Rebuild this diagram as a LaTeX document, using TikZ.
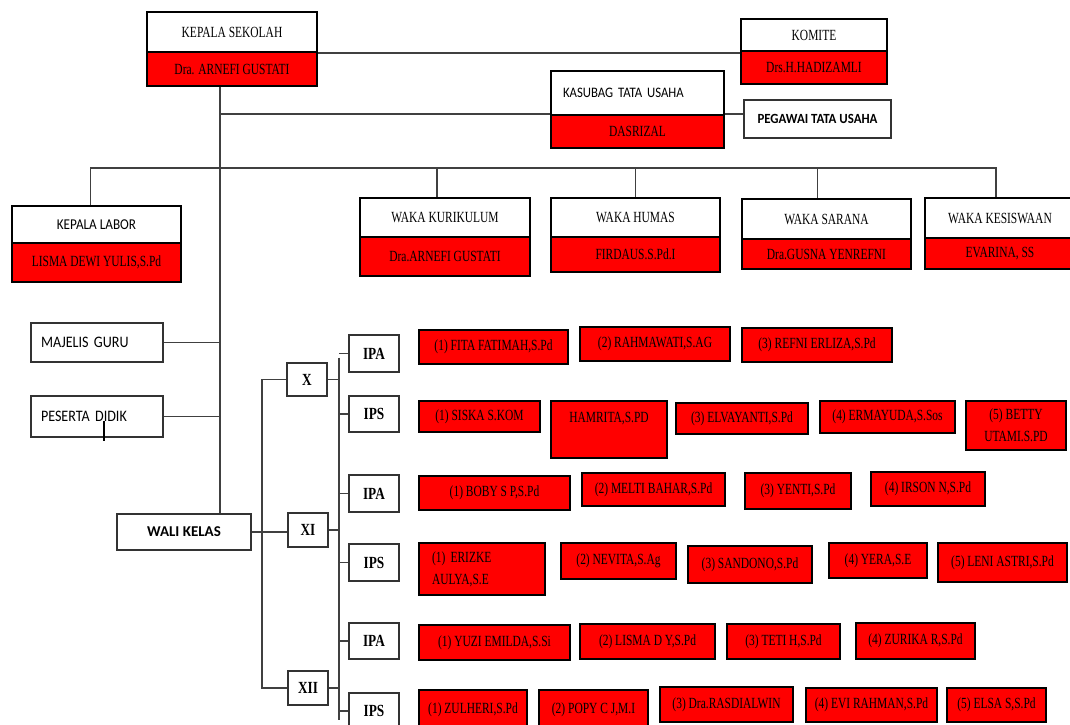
\documentclass[tikz,border=0pt]{standalone}
\usepackage{fontspec}
\newfontfamily\tnr[FakeStretch=0.74]{Liberation Serif}
\newfontfamily\tnrb[FakeStretch=0.78]{Liberation Serif Bold}
\newfontfamily\cbri[FakeStretch=0.88]{Carlito}
\newfontfamily\cbrib[FakeStretch=0.92]{Carlito Bold}
\newfontfamily\cbribn{Carlito Bold}
\definecolor{rd}{RGB}{255,0,0}
\tikzset{
  hw/.style={draw=black, line width=1.8pt, fill=white, inner sep=0pt, font=\tnr\fontsize{15.5}{17}\selectfont},
  hr/.style={hw, fill=rd},
  pb/.style={draw=black!80, line width=1.2pt, fill=white, inner sep=0pt, font=\cbri\fontsize{14.5}{16}\selectfont},
  kb/.style={pb, font=\tnrb\fontsize{17}{19}\selectfont},
  rb/.style={draw=black, line width=2.2pt, fill=rd, inner sep=0pt, font=\tnr\fontsize{15.5}{17}\selectfont},
  two/.style={font=\tnr\fontsize{15.5}{22}\selectfont},
  conn/.style={draw=black!75, line width=1.3pt},
}
% \bx[opts]{style}{name}{x1}{y1}{x2}{y2}{text}
\newcommand\bx[8][]{\node[#2, minimum width={(#6-#4)*1pt}, minimum height={(#7-#5)*1pt}, #1] (#3) at ({(#4+#6)/2},{(#5+#7)/2}) {#8};}
% \hp[topopts]{name}{x1}{y1}{ydiv}{x2}{y2}{top}{bottom}
\newcommand\hp[9][]{\bx[#1]{hw}{#2-w}{#3}{#4}{#6}{#5}{#8}\bx{hr}{#2-r}{#3}{#5}{#6}{#7}{#9}}
\begin{document}
\begin{tikzpicture}[x=1pt,y=-1pt]
\useasboundingbox (0,0) rectangle (1070,724);
\clip (0,0) rectangle (1070,724);
\fill[white] (0,0) rectangle (1070,724);
% header pairs
\hp{ks}{147}{12}{52}{317}{86}{KEPALA SEKOLAH}{Dra. ARNEFI GUSTATI}
\hp{kom}{741}{19}{51}{887}{84}{KOMITE}{Drs.H.HADIZAMLI}
\hp[font=\cbri\fontsize{14.5}{16}\selectfont, text width=149pt, align=left]{kas}{551}{71}{115}{724}{148}{KASUBAG TATA USAHA}{DASRIZAL}
\hp[font=\cbri\fontsize{15}{16}\selectfont]{lab}{12}{206}{243}{181}{282}{KEPALA LABOR}{LISMA DEWI YULIS,S.Pd}
\hp{kur}{360}{198}{237}{530}{276}{WAKA KURIKULUM}{Dra.ARNEFI GUSTATI}
\hp{hum}{551}{198}{237}{720}{272}{WAKA HUMAS}{FIRDAUS.S.Pd.I}
\hp{sar}{742}{199}{239}{911}{269}{WAKA SARANA}{Dra.GUSNA YENREFNI}
\hp{kes}{925}{198}{238}{1075}{269}{WAKA KESISWAAN}{EVARINA, SS}
% plain boxes
\bx[font=\cbrib\fontsize{14}{16}\selectfont]{pb}{peg}{744}{100}{891}{138}{PEGAWAI TATA USAHA}
\bx[text width=112pt, align=left, font=\cbri\fontsize{16}{18}\selectfont]{pb}{mg}{31}{323}{163}{362}{MAJELIS GURU}
\bx[text width=112pt, align=left, font=\cbri\fontsize{16}{18}\selectfont]{pb}{pd}{31}{396}{163}{437}{PESERTA DIDIK}
\bx[font=\cbribn\fontsize{15}{16}\selectfont]{pb}{wk}{117}{514}{251}{550}{WALI KELAS}
\bx{kb}{kx}{287}{363}{327}{396}{X}
\bx{kb}{kxi}{288}{513}{328}{547}{XI}
\bx{kb}{kxii}{288}{671}{328}{705}{XII}
\bx{kb}{ipa1}{349}{335}{399}{372}{IPA}
\bx{kb}{ips1}{349}{396}{399}{432}{IPS}
\bx{kb}{ipa2}{349}{475}{399}{512}{IPA}
\bx{kb}{ips2}{349}{544}{399}{581}{IPS}
\bx{kb}{ipa3}{349}{623}{399}{659}{IPA}
\bx{kb}{ips3}{349}{693}{399}{729}{IPS}
% red boxes
\bx{rb}{r11}{419}{330}{568}{364}{(1) FITA FATIMAH,S.Pd}
\bx{rb}{r12}{580}{327}{730}{361}{(2) RAHMAWATI,S.AG}
\bx{rb}{r13}{742}{328}{892}{362}{(3) REFNI ERLIZA,S.Pd}
\bx{rb}{r21}{419}{401}{540}{432}{(1) SISKA S.KOM}
\bx{rb}{r22}{551}{401}{667}{458}{}
\node[font=\tnr\fontsize{15.5}{17}\selectfont] (r22t) at (609,419) {HAMRITA,S.PD};
\bx{rb}{r23}{676}{403}{808}{434}{(3) ELVAYANTI,S.Pd}
\bx{rb}{r24}{820}{401}{955}{433}{(4) ERMAYUDA,S.Sos}
\bx[two, align=center]{rb}{r25}{966}{401}{1066}{450}{(5) BETTY\\UTAMI.S.PD}
\bx{rb}{r31}{419}{476}{570}{510}{(1) BOBY S P,S.Pd}
\bx{rb}{r32}{582}{473}{725}{506}{(2) MELTI BAHAR,S.Pd}
\bx{rb}{r33}{745}{473}{851}{509}{(3) YENTI,S.Pd}
\bx{rb}{r34}{871}{472}{985}{506}{(4) IRSON N,S.Pd}
\bx[two, text width=100pt, align=left]{rb}{r41}{419}{543}{545}{595}{(1) ERIZKE\\AULYA,S.E}
\bx{rb}{r42}{561}{543}{676}{579}{(2) NEVITA,S.Ag}
\bx{rb}{r43}{688}{546}{812}{583}{(3) SANDONO,S.Pd}
\bx{rb}{r44}{829}{543}{927}{578}{(4) YERA,S.E}
\bx{rb}{r45}{938}{543}{1067}{582}{(5) LENI ASTRI,S.Pd}
\bx{rb}{r51}{419}{625}{570}{660}{(1) YUZI EMILDA,S.Si}
\bx{rb}{r52}{580}{624}{715}{659}{(2) LISMA D Y,S.Pd}
\bx{rb}{r53}{727}{624}{840}{659}{(3) TETI H,S.Pd}
\bx{rb}{r54}{856}{623}{975}{659}{(4) ZURIKA R,S.Pd}
\bx{rb}{r61}{419}{690}{527}{730}{(1) ZULHERI,S.Pd}
\bx{rb}{r62}{539}{690}{648}{730}{(2) POPY C J,M.I}
\bx{rb}{r63}{660}{687}{793}{722}{(3) Dra.RASDIALWIN}
\bx{rb}{r64}{806}{688}{937}{722}{(4) EVI RAHMAN,S.Pd}
\bx{rb}{r65}{947}{688}{1046}{722}{(5) ELSA S,S.Pd}
% helper coordinates
\coordinate (trunk) at (220,0);
\coordinate (bus) at (0,168);
\coordinate (va) at (262,0);
\coordinate (vb) at (339,0);
\path ([xshift=-6pt]lab-w.north) coordinate (labd);
\path ([xshift=-8pt]kur-w.north) coordinate (kurd);
\path ([xshift=-9pt]sar-w.north) coordinate (sard);
\path ([xshift=-4pt]kes-w.north) coordinate (kesd);
% connectors
\draw[conn] (ks-r.south -| trunk) -- (wk.north -| trunk);
\draw[conn] (ks-w.south east) -- (ks-w.south east -| kom-w.west);
\draw[conn] (kas-r.north west -| trunk) -- (kas-r.north west);
\draw[conn] (kas-r.north east) -- (kas-r.north east -| peg.west);
\draw[conn] (labd) -- (labd |- bus) -- (kesd |- bus) -- (kesd);
\draw[conn] (kurd) -- (kurd |- bus);
\draw[conn] (hum-w.north) -- (hum-w.north |- bus);
\draw[conn] (sard) -- (sard |- bus);
\draw[conn] (mg.east) -- (mg.east -| trunk);
\draw[conn] (pd.east) -- (pd.east -| trunk);
\draw[conn] (wk.east) -- (wk.east -| kxi.west);
\draw[conn] (kx.west) -- (kx.west -| va) -- (kxii.west -| va) -- (kxii.west);
\draw[conn] ([yshift=-4pt]ipa1.west -| vb) -- ([yshift=-9pt]ips3.west -| vb);
\foreach \n in {ipa1,ips1,ipa2,ips2,ipa3,ips3} {\draw[conn] (\n.west) -- (\n.west -| vb);}
\foreach \n in {kx,kxi,kxii} {\draw[conn] (\n.east) -- (\n.east -| vb);}
% text cursor mark
\draw[line width=1.6pt] (104,421) -- (104,441);
\end{tikzpicture}
\end{document}
